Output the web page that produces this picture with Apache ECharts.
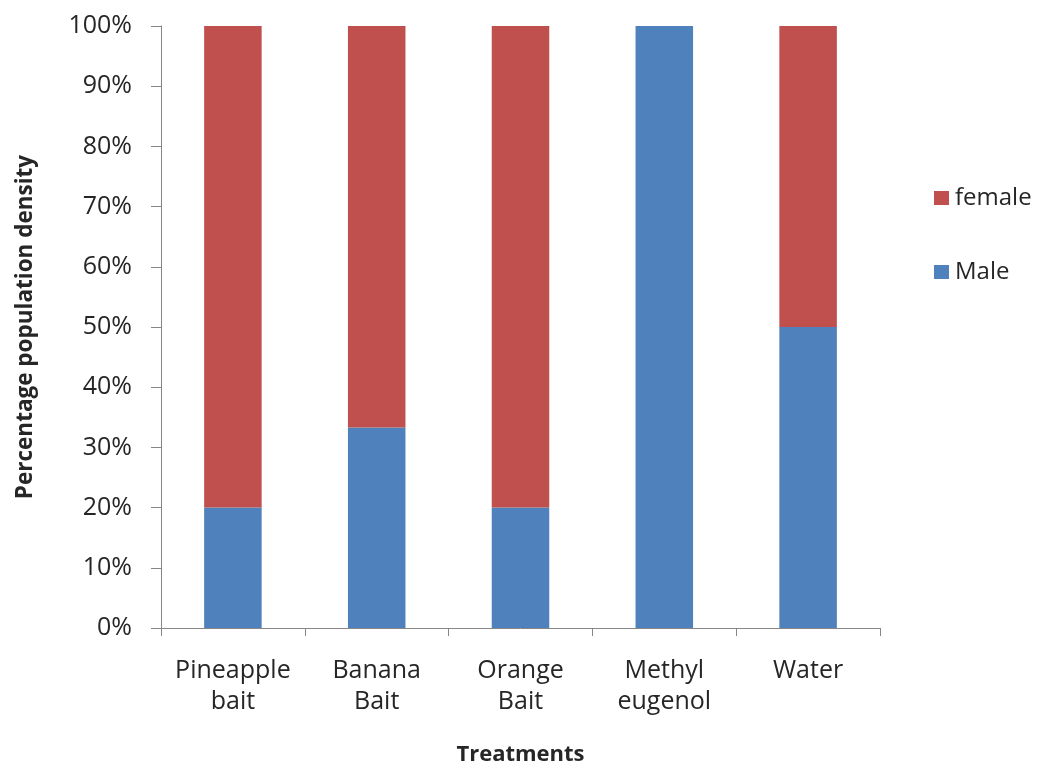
<!DOCTYPE html>
<html>
<head>
<meta charset="utf-8">
<script src="https://cdn.jsdelivr.net/npm/echarts@6/dist/echarts.min.js"></script>
<style>
  html, body { margin: 0; padding: 0; background: #ffffff; overflow: hidden; }
  #chart { width: 1043px; height: 771px; }
</style>
</head>
<body>
<div id="chart"></div>
<script>
// Treatments on the category axis (two-line labels)
const categories = ['Pineapple\nbait', 'Banana\nBait', 'Orange\nBait', 'Methyl\neugenol', 'Water'];
// Share of each sex in the trapped population, percent
const maleShare = [20, 33.3, 20, 100, 50];
const femaleShare = [80, 66.7, 80, 0, 50];
// Value-axis ticks
const yTicks = { min: 0, max: 100, interval: 10 };

const FONT = '"Open Sans", "Liberation Sans", sans-serif';
const AXIS_GRAY = '#868686';
const TEXT = '#262626';

const chart = echarts.init(document.getElementById('chart'), null, { renderer: 'canvas' });

chart.setOption({
  animation: false,
  backgroundColor: '#ffffff',
  textStyle: { fontFamily: FONT, color: TEXT },
  grid: { left: 161, right: 163, top: 26, bottom: 137, containLabel: false },
  legend: {
    data: ['female', 'Male'],
    orient: 'vertical',
    left: 929,
    top: 181,
    itemWidth: 15,
    itemHeight: 14,
    itemGap: 50,
    icon: 'rect',
    textStyle: { fontFamily: FONT, fontSize: 24, color: TEXT, padding: [0, 0, 0, 1] }
  },
  xAxis: {
    type: 'category',
    data: categories,
    boundaryGap: true,
    name: 'Treatments',
    nameLocation: 'middle',
    nameGap: 116,
    nameTextStyle: { fontFamily: FONT, fontSize: 22, fontWeight: 'bold', color: TEXT },
    axisLine: { show: true, lineStyle: { color: AXIS_GRAY, width: 1 } },
    axisTick: { show: true, length: 8, alignWithLabel: false, lineStyle: { color: AXIS_GRAY } },
    axisLabel: { fontFamily: FONT, fontSize: 25, color: TEXT, lineHeight: 31, margin: 27, interval: 0 },
    splitLine: { show: false }
  },
  yAxis: {
    type: 'value',
    min: yTicks.min,
    max: yTicks.max,
    interval: yTicks.interval,
    name: 'Percentage population density',
    nameLocation: 'middle',
    nameRotate: 90,
    nameGap: 124,
    nameTextStyle: { fontFamily: FONT, fontSize: 22.5, fontWeight: 'bold', color: TEXT },
    axisLine: { show: true, lineStyle: { color: AXIS_GRAY, width: 1 } },
    axisTick: { show: true, length: 10, inside: false, lineStyle: { color: AXIS_GRAY } },
    axisLabel: { fontFamily: FONT, fontSize: 25, color: TEXT, margin: 29, formatter: '{value}%' },
    splitLine: { show: false }
  },
  series: [
    {
      name: 'Male',
      type: 'bar',
      stack: 'share',
      data: maleShare,
      barWidth: '40%',
      itemStyle: { color: '#4F81BD' }
    },
    {
      name: 'female',
      type: 'bar',
      stack: 'share',
      data: femaleShare,
      barWidth: '40%',
      itemStyle: { color: '#C0504D' }
    }
  ]
});
</script>
</body>
</html>
